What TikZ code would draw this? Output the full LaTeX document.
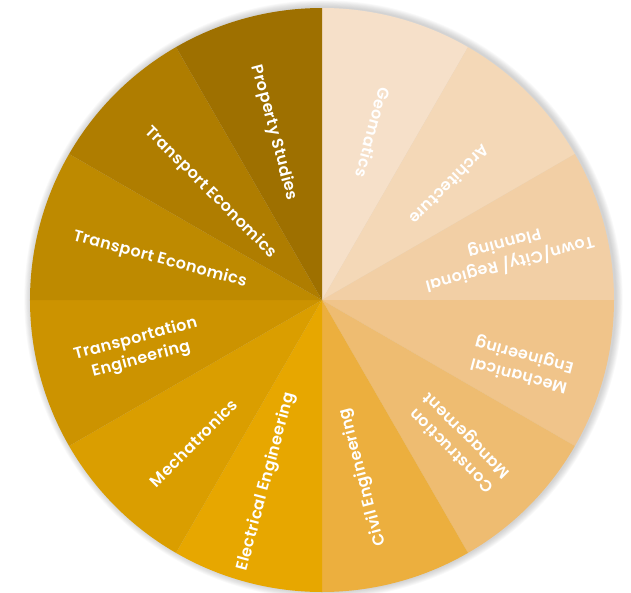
\documentclass[tikz,border=0pt]{standalone}
\usepackage{fontspec}
\setmainfont{Poppins}[LetterSpace=2.5, BoldFont={Poppins SemiBold}]
\usepackage{tikz}

\definecolor{geo}{HTML}{F6E0C9}
\definecolor{arch}{HTML}{F4D8B7}
\definecolor{town}{HTML}{F2CFA5}
\definecolor{mech}{HTML}{F0C48A}
\definecolor{cons}{HTML}{EEBC71}
\definecolor{civil}{HTML}{ECAF3E}
\definecolor{elec}{HTML}{E7A700}
\definecolor{mtron}{HTML}{DA9E00}
\definecolor{teng}{HTML}{CC9300}
\definecolor{tecoa}{HTML}{BE8A00}
\definecolor{tecob}{HTML}{AF7D00}
\definecolor{prop}{HTML}{9E7000}

\begin{document}
\begin{tikzpicture}[x=1pt,y=1pt]
        \tikzset{lbl/.style={text=white, font=\bfseries\fontsize{16}{21}\selectfont, align=center, inner sep=0pt}}
        \useasboundingbox (-322,-292) rectangle (309,300);
        % soft shadow
        \foreach \i in {1,...,8}
            \fill [black, opacity=0.025] (1.5,0.5) circle ({292+\i*0.9});
        % sectors
        \foreach \a/\c in {90/geo,60/arch,30/town,0/mech,-30/cons,-60/civil,-90/elec,-120/mtron,-150/teng,-180/tecoa,-210/tecob,-240/prop}
            \fill [\c] (0,0) -- (\a:292) arc (\a:\a-30:292) -- cycle;
        % labels
        \node [lbl, rotate=-105] (geomatics) at (73:175) {Geomatics};
        \node [lbl, rotate=-135] (architecture) at (42:172) {Architecture};
        \node [lbl, rotate=-165] (planning) at (14:191) {Town/City/ Regional\\Planning};
        \node [lbl, rotate=165] (mechanical) at (-18:210) {Mechanical\\Engineering};
        \node [lbl, rotate=135] (construction) at (-46:198) {Construction\\Management};
        \node [lbl, rotate=105] (civil) at (-77:182) {Civil Engineering};
        \node [lbl, rotate=75] (electrical) at (-107:190) {Electrical Engineering};
        \node [lbl, rotate=45] (mechatronics) at (-132:192) {Mechatronics};
        \node [lbl, rotate=15] (transporteng) at (-165:190) {Transportation\\Engineering};
        \node [lbl, rotate=-15] (transportecoa) at (166:167) {Transport Economics};
        \node [lbl, rotate=-45] (transportecob) at (136:155) {Transport Economics};
        \node [lbl, rotate=-75] (property) at (106:174) {Property Studies};
\end{tikzpicture}
\end{document}
